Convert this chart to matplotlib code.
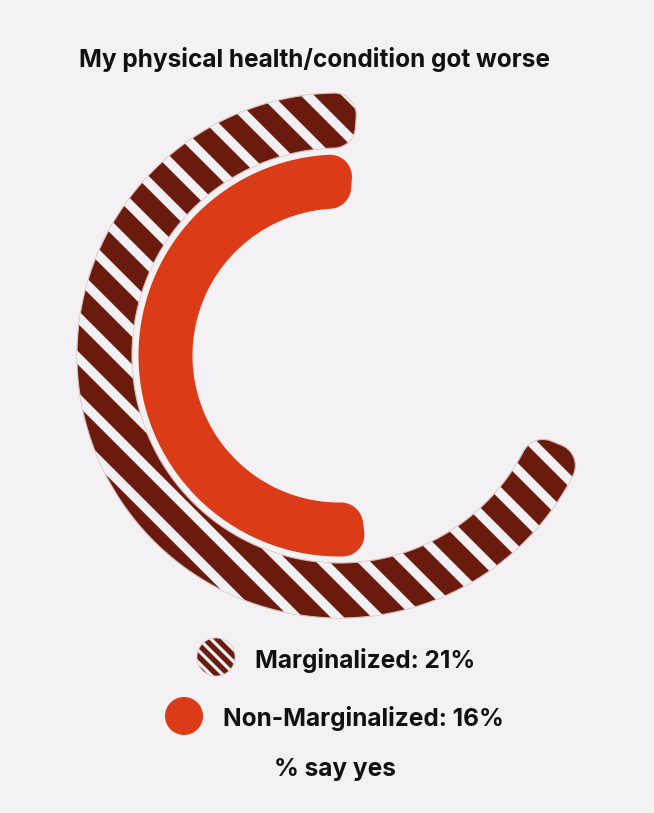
import numpy as np
import matplotlib.pyplot as plt
from matplotlib.path import Path
from matplotlib.patches import PathPatch, Circle
from matplotlib.collections import LineCollection

# Dados
titulo = "My physical health/condition got worse"
grupos = ["Marginalized", "Non-Marginalized"]
valores = [21, 16]          # % say yes
escala_max = 30             # valor que corresponde a uma volta completa
rodape = "% say yes"

# Cores
fundo = "#F3F1F4"
vinho = "#6B1B0E"
laranja = "#DB3B17"
texto = "#111111"

W, H = 654, 813
cx, cy = 339.5, 355.5       # centro dos arcos (pixels)
inicio = 86                 # ângulo inicial (graus, anti-horário)
aneis = [(207.5, 262.5), (147.0, 201.0)]
raio_canto = 22


def arco_fillet(rc_centro, ang_centro, rc, a0, a1, n=20):
    # pequeno arco de arredondamento num canto do setor
    c = np.radians(ang_centro)
    ox, oy = rc_centro * np.cos(c), rc_centro * np.sin(c)
    if a1 < a0:
        a1 += 360
    a = np.radians(np.linspace(a0, a1, n))
    return np.column_stack([ox + rc * np.cos(a), oy + rc * np.sin(a)])


def setor_arredondado(r_in, r_out, t0, t1, rc, n=300):
    do = np.degrees(np.arcsin(rc / (r_out - rc)))
    di = np.degrees(np.arcsin(rc / (r_in + rc)))
    partes = []
    a = np.radians(np.linspace(t0 + do, t1 - do, n))
    partes.append(np.column_stack([r_out * np.cos(a), r_out * np.sin(a)]))
    partes.append(arco_fillet(r_out - rc, t1 - do, rc, t1 - do, t1 + 90))
    partes.append(arco_fillet(r_in + rc, t1 - di, rc, t1 + 90, t1 - di + 180))
    a = np.radians(np.linspace(t1 - di, t0 + di, n))
    partes.append(np.column_stack([r_in * np.cos(a), r_in * np.sin(a)]))
    partes.append(arco_fillet(r_in + rc, t0 + di, rc, t0 + di + 180, t0 + 270))
    partes.append(arco_fillet(r_out - rc, t0 + do, rc, t0 + 270, t0 + do + 360))
    pts = np.vstack(partes)
    # coordenadas de tela (y para baixo)
    xy = np.column_stack([cx + pts[:, 0], cy - pts[:, 1]])
    xy = np.vstack([xy, xy[:1]])
    return Path(xy, closed=True)


def listras(ax, patch, passo, largura, x0, x1, y0, y1):
    # listras diagonais claras recortadas pela forma
    segs = []
    for c in np.arange(x0 - (y1 - y0), x1 + passo, passo):
        segs.append([(c, y0), (c + (y1 - y0), y1)])
    lc = LineCollection(segs, colors=fundo, linewidths=largura * 0.72,
                        capstyle="butt", zorder=patch.get_zorder() + 0.1)
    ax.add_collection(lc)
    lc.set_clip_path(patch)


fig = plt.figure(figsize=(W / 100, H / 100), dpi=100)
fig.patch.set_facecolor(fundo)
ax = fig.add_axes([0, 0, 1, 1])
ax.set_xlim(0, W)
ax.set_ylim(H, 0)
ax.axis("off")

# Arcos
for i, (valor, (r_in, r_out)) in enumerate(zip(valores, aneis)):
    fim = inicio + valor / escala_max * 360
    caminho = setor_arredondado(r_in, r_out, inicio, fim, raio_canto)
    if i == 0:
        p = PathPatch(caminho, facecolor=vinho, edgecolor="#D9BDB6",
                      linewidth=0.8, zorder=2)
        ax.add_patch(p)
        listras(ax, p, 41, 9.5, 0, W, 0, H)
    else:
        p = PathPatch(caminho, facecolor=laranja, edgecolor="none", zorder=3)
        ax.add_patch(p)

fonte = dict(fontsize=17.6, fontweight="bold", family="Inter", color=texto)

# Título
ax.text(314.5, 60, titulo, ha="center", va="center", **fonte)

# Legenda
m1 = Circle((216, 657), 19, facecolor=vinho, edgecolor="#D9BDB6",
            linewidth=0.6, zorder=2)
ax.add_patch(m1)
listras(ax, m1, 12, 3.2, 190, 245, 630, 690)
ax.add_patch(Circle((184, 716), 19, facecolor=laranja, edgecolor="none"))

ax.text(255, 660, f"{grupos[0]}: {valores[0]}%", ha="left", va="center", **fonte)
ax.text(223, 718, f"{grupos[1]}: {valores[1]}%", ha="left", va="center", **fonte)
ax.text(335, 769, rodape, ha="center", va="center", **fonte)

fig.savefig("out.png", dpi=100, facecolor=fundo)
